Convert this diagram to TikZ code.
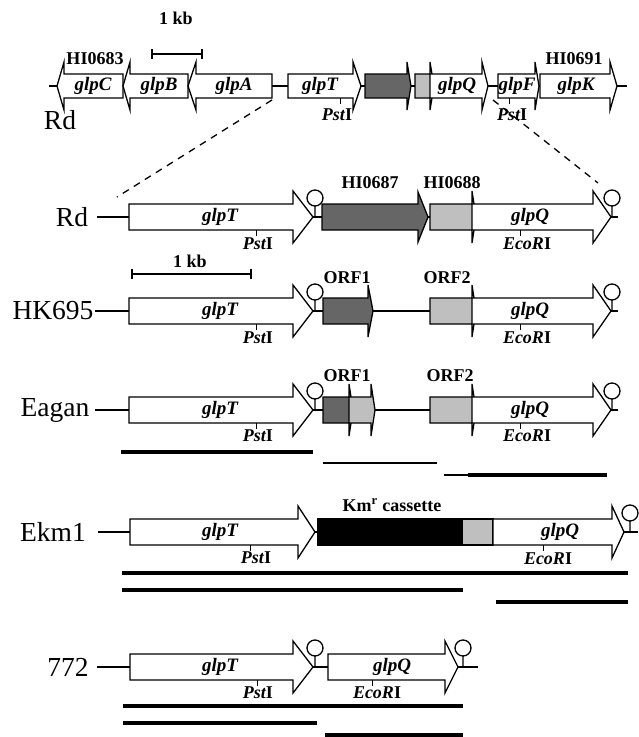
\documentclass[tikz,border=0pt]{standalone}
\usepackage{fontspec}
\setmainfont{Liberation Serif}
\usetikzlibrary{positioning}

% gene arrows: start, head base, tip, y, half body, half head, style
\newcommand{\genright}[7]{\draw[#7] (#1,#4-#5) -- (#2,#4-#5) -- (#2,#4-#6) -- (#3,#4) -- (#2,#4+#6) -- (#2,#4+#5) -- (#1,#4+#5) -- cycle;}
\newcommand{\genleft}[7]{\draw[#7] (#1,#4) -- (#2,#4-#6) -- (#2,#4-#5) -- (#3,#4-#5) -- (#3,#4+#5) -- (#2,#4+#5) -- (#2,#4+#6) -- cycle;}
% terminator
\newcommand{\termin}[2]{\draw[axis] (#1,#2) -- (#1,#2-11) (#1,#2-19) circle[radius=8];}
\newcommand{\pst}{{\itshape Pst}I}
\newcommand{\eco}{{\itshape EcoR}I}

\tikzset{
  axis/.style={line width=1.3pt},
  gene/.style={draw, line width=1.3pt, fill=white, line join=miter},
  darkgene/.style={gene, fill=black!60},
  palegene/.style={gene, fill=black!25},
  kmbox/.style={gene, fill=black},
  strain/.style={font=\fontsize{27.5}{28}\selectfont, inner sep=0pt},
  gname/.style={font=\fontsize{19}{19}\selectfont\bfseries\itshape, inner sep=0pt},
  tag/.style={font=\fontsize{18}{18}\selectfont\bfseries, inner sep=0pt},
  probe/.style={line width=4.5pt},
  site/.style={line width=1pt},
  zoomline/.style={line width=1.3pt, dash pattern=on 7pt off 6pt},
}

\begin{document}
\begin{tikzpicture}[x=1pt, y=-1pt]
    \fill[white] (0,0) rectangle (638,737);
    \useasboundingbox (0,0) rectangle (638,737);

    % chromosome map
    \node[tag] (kbtop) at (176,18) {1 kb};
    \draw[line width=2.5pt] (152,54) -- (202,54);
    \draw[axis] (152,49) -- (152,59) (202,49) -- (202,59);
    \draw[axis] (49,86) -- (627,86);
    \genleft{57}{64}{123}{86}{12}{24}{gene}
    \genleft{123}{130}{188}{86}{12}{24}{gene}
    \genleft{188}{196}{272}{86}{12}{24}{gene}
    \genright{288}{353}{361}{86}{12}{24}{gene}
    \genright{365}{407}{411}{86}{12}{24}{darkgene}
    \genright{415}{430}{434}{86}{12}{24}{palegene}
    \genright{430}{482}{488}{86}{12}{24}{gene}
    \genright{498}{535}{539}{86}{12}{24}{gene}
    \genright{540}{610}{617}{86}{12}{24}{gene}
    \node[tag] (hi0683) at (95,59) {HI0683};
    \node[tag] (hi0691) at (574,59) {HI0691};
    \node[gname] (glpCtop) at (93,86) {glpC};
    \node[gname] (glpBtop) at (159,86) {glpB};
    \node[gname] (glpAtop) at (234,86) {glpA};
    \node[gname] (glpTtop) at (320,86) {glpT};
    \node[gname] (glpQtop) at (457,86) {glpQ};
    \node[gname] (glpFtop) at (517,86) {glpF};
    \node[gname] (glpKtop) at (576,86) {glpK};
    \draw[site] (340,98) -- (340,104) (509,98) -- (509,104);
    \node[tag] (pst1top) at (337,115) {\pst};
    \node[tag] (pst2top) at (512,115) {\pst};
    \node[strain] (rdtop) at (60,120) {Rd};

    \coordinate (zl0) at (272,100);
    \coordinate (zl1) at (117,197);
    \coordinate (zr0) at (493,100);
    \coordinate (zr1) at (598,183);
    \draw[zoomline] (zl0) -- (zl1);
    \draw[zoomline] (zr0) -- (zr1);

    % Rd
    \draw[axis] (97,217) -- (618,217);
    \genright{129}{293}{313}{217}{13}{26}{gene}
    \termin{315}{217}
    \genright{322}{418}{428}{217}{13}{25}{darkgene}
    \genright{430}{472}{476}{217}{13}{26}{palegene}
    \genright{472}{593}{611}{217}{13}{26}{gene}
    \termin{612}{217}
    \node[strain] (rd) at (72,217) {Rd};
    \node[gname] (glpTrd) at (220,217) {glpT};
    \node[gname] (glpQrd) at (530,217) {glpQ};
    \node[tag] (hi0687) at (370,183) {HI0687};
    \node[tag] (hi0688) at (452,183) {HI0688};
    \draw[site] (256,230) -- (256,236) (520,230) -- (520,236);
    \node[tag] (pstrd) at (258,244) {\pst};
    \node[tag] (ecord) at (527,244) {\eco};

    % HK695
    \node[tag] (kbmid) at (190,261) {1 kb};
    \draw[line width=2.5pt] (132,274) -- (251,274);
    \draw[axis] (132,269) -- (132,279) (251,269) -- (251,279);
    \draw[axis] (95,311) -- (618,311);
    \genright{129}{293}{313}{311}{13}{26}{gene}
    \termin{315}{311}
    \genright{323}{368}{373}{311}{13}{26}{darkgene}
    \genright{430}{472}{476}{311}{13}{26}{palegene}
    \genright{472}{593}{611}{311}{13}{26}{gene}
    \termin{612}{311}
    \node[strain] (hk) at (53,311) {HK695};
    \node[gname] (glpThk) at (220,311) {glpT};
    \node[gname] (glpQhk) at (530,311) {glpQ};
    \node[tag] (orf1hk) at (347,278) {ORF1};
    \node[tag] (orf2hk) at (447,278) {ORF2};
    \draw[site] (256,324) -- (256,330) (520,324) -- (520,330);
    \node[tag] (psthk) at (258,338) {\pst};
    \node[tag] (ecohk) at (527,338) {\eco};

    % Eagan
    \draw[axis] (95,410) -- (618,410);
    \genright{129}{293}{313}{410}{13}{26}{gene}
    \termin{315}{410}
    \genright{323}{349}{353}{410}{13}{26}{darkgene}
    \genright{349}{371}{375}{410}{13}{26}{palegene}
    \genright{430}{472}{476}{410}{13}{26}{palegene}
    \genright{472}{593}{611}{410}{13}{26}{gene}
    \termin{612}{410}
    \node[strain] (eagan) at (55,410) {Eagan};
    \node[gname] (glpTea) at (220,410) {glpT};
    \node[gname] (glpQea) at (530,410) {glpQ};
    \node[tag] (orf1ea) at (347,376) {ORF1};
    \node[tag] (orf2ea) at (450,376) {ORF2};
    \draw[site] (256,423) -- (256,429) (520,423) -- (520,429);
    \node[tag] (pstea) at (258,436) {\pst};
    \node[tag] (ecoea) at (527,436) {\eco};
    \draw[probe] (121,452) -- (313,452);
    \draw[axis] (323,463) -- (437,463);
    \draw[axis] (444,475) -- (468,475);
    \draw[probe] (468,475) -- (607,475);

    % Ekm1
    \draw[axis] (98,532) -- (638,532);
    \genright{130}{298}{315}{532}{13}{26}{gene}
    \draw[kmbox] (318,519) rectangle (462,545);
    \draw[palegene] (462,519) rectangle (493,545);
    \genright{493}{612}{624}{532}{13}{26}{gene}
    \termin{630}{532}
    \node[strain] (ekm) at (53,532) {Ekm1};
    \node[gname] (glpTek) at (220,532) {glpT};
    \node[gname] (glpQek) at (560,532) {glpQ};
    \node[tag] (kmr) at (392,505) {Km\textsuperscript{r} cassette};
    \draw[site] (250,545) -- (250,551) (543,545) -- (543,551);
    \node[tag] (pstek) at (256,558) {\pst};
    \node[tag] (ecoek) at (548,559) {\eco};
    \draw[probe] (122,573) -- (628,573);
    \draw[probe] (122,590) -- (463,590);
    \draw[probe] (496,602) -- (628,602);

    % 772
    \draw[axis] (97,667) -- (478,667);
    \genright{130}{293}{313}{667}{13}{26}{gene}
    \termin{315}{667}
    \genright{328}{445}{458}{667}{13}{26}{gene}
    \termin{463}{667}
    \node[strain] (s772) at (68,667) {772};
    \node[gname] (glpT772) at (220,667) {glpT};
    \node[gname] (glpQ772) at (392,667) {glpQ};
    \draw[site] (257,680) -- (257,686) (372,680) -- (372,686);
    \node[tag] (pst772) at (258,693) {\pst};
    \node[tag] (eco772) at (377,693) {\eco};
    \draw[probe] (123,706) -- (463,706);
    \draw[probe] (123,723) -- (317,723);
    \draw[probe] (325,735) -- (463,735);
\end{tikzpicture}
\end{document}
